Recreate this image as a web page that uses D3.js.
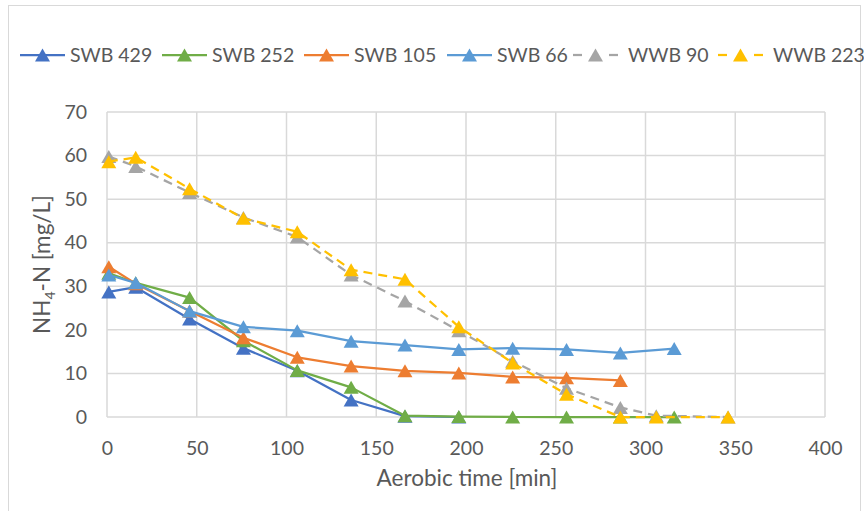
<!DOCTYPE html>
<html>
<head>
<meta charset="utf-8">
<script src="https://cdn.jsdelivr.net/npm/d3@7"></script>
<style>
  html, body { margin: 0; padding: 0; background: #fff; }
  svg { display: block; font-family: Lato, "Open Sans", sans-serif; }
</style>
</head>
<body>
<svg id="chart" width="864" height="511"></svg>
<script>
// Ammonium concentration during aerobic phase for six batches
const seriesNames = ["SWB 429", "SWB 252", "SWB 105", "SWB 66", "WWB 90", "WWB 223"];
const seriesColors = ["#4472C4", "#70AD47", "#ED7D31", "#5B9BD5", "#A5A5A5", "#FFC000"];
const seriesDashed = [false, false, false, false, true, true];

const timeSWB429 = [1, 16, 46, 76, 106, 136, 166, 196];
const valSWB429  = [28.7, 29.8, 22.5, 15.8, 10.6, 3.9, 0.2, 0];

const timeSWB252 = [1, 16, 46, 76, 106, 136, 166, 196, 226, 256, 286, 316];
const valSWB252  = [33.0, 30.8, 27.4, 17.5, 10.7, 6.8, 0.3, 0.1, 0, 0, 0, 0];

const timeSWB105 = [1, 16, 46, 76, 106, 136, 166, 196, 226, 256, 286];
const valSWB105  = [34.5, 30.6, 24.3, 18.2, 13.7, 11.7, 10.6, 10.1, 9.2, 9.0, 8.4];

const timeSWB66 = [1, 16, 46, 76, 106, 136, 166, 196, 226, 256, 286, 316];
const valSWB66  = [32.6, 30.8, 24.3, 20.7, 19.8, 17.4, 16.5, 15.5, 15.8, 15.5, 14.7, 15.7];

const timeWWB90 = [1, 16, 46, 76, 106, 136, 166, 196, 226, 256, 286, 306, 346];
const valWWB90  = [59.8, 57.5, 51.5, 45.8, 41.3, 32.6, 26.6, 19.8, 12.8, 6.6, 2.2, 0.3, 0];

const timeWWB223 = [1, 16, 46, 76, 106, 136, 166, 196, 226, 256, 286, 306, 346];
const valWWB223  = [58.6, 59.6, 52.4, 45.6, 42.5, 33.8, 31.6, 20.7, 12.4, 5.2, 0, 0, 0];

const xTicks = [0, 50, 100, 150, 200, 250, 300, 350, 400];
const yTicks = [0, 10, 20, 30, 40, 50, 60, 70];

const allTimes = [timeSWB429, timeSWB252, timeSWB105, timeSWB66, timeWWB90, timeWWB223];
const allVals  = [valSWB429, valSWB252, valSWB105, valSWB66, valWWB90, valWWB223];

const series = seriesNames.map((name, i) => ({
  name,
  color: seriesColors[i],
  dashed: seriesDashed[i],
  points: allTimes[i].map((t, j) => ({ t, v: allVals[i][j] }))
}));

const svg = d3.select("#chart");
const textColor = "#595959";
const gridColor = "#D9D9D9";

// outer chart frame
svg.append("rect")
  .attr("x", 8.5).attr("y", 5.5).attr("width", 852).attr("height", 520)
  .attr("fill", "none").attr("stroke", "#D9D9D9").attr("stroke-width", 1);

const plot = { left: 107, right: 825, top: 112, bottom: 417 };

const x = d3.scaleLinear().domain([0, 400]).range([plot.left, plot.right]);
const y = d3.scaleLinear().domain([0, 70]).range([plot.bottom, plot.top]);

// gridlines
const grid = svg.append("g");
grid.selectAll("line.h").data(yTicks).join("line")
  .attr("x1", plot.left).attr("x2", plot.right)
  .attr("y1", d => y(d)).attr("y2", d => y(d))
  .attr("stroke", gridColor).attr("stroke-width", 1.5);
grid.selectAll("line.v").data(xTicks).join("line")
  .attr("y1", plot.top).attr("y2", plot.bottom)
  .attr("x1", d => x(d)).attr("x2", d => x(d))
  .attr("stroke", gridColor).attr("stroke-width", 1.5);

// axes (labels only, lines come from the grid)
const xAxis = d3.axisBottom(x).tickValues(xTicks).tickSize(0).tickPadding(24);
const gx = svg.append("g").attr("transform", `translate(0,${plot.bottom})`).call(xAxis);
gx.select(".domain").remove();
gx.selectAll("text").attr("fill", textColor).attr("font-size", 19.5).attr("font-family", "Lato, sans-serif");

const yAxis = d3.axisLeft(y).tickValues(yTicks).tickSize(0).tickPadding(20);
const gy = svg.append("g").attr("transform", `translate(${plot.left},0)`).call(yAxis);
gy.select(".domain").remove();
gy.selectAll("text").attr("fill", textColor).attr("font-size", 19.5).attr("font-family", "Lato, sans-serif");

// axis titles
svg.append("text")
  .attr("x", 467).attr("y", 486)
  .attr("text-anchor", "middle").attr("fill", textColor).attr("font-size", 22.5)
  .text("Aerobic time [min]");

const yTitle = svg.append("text")
  .attr("transform", `translate(50,${(plot.top + plot.bottom) / 2}) rotate(-90)`)
  .attr("text-anchor", "middle").attr("fill", textColor).attr("font-size", 22.5);
yTitle.append("tspan").text("NH");
yTitle.append("tspan").attr("font-size", 14).attr("dy", 5).text("4");
yTitle.append("tspan").attr("dy", -5).text("-N [mg/L]");

// triangle marker, centred on its bounding box
const triW = 15, triH = 13;
const triPath = `M0,${-triH / 2}L${triW / 2},${triH / 2}L${-triW / 2},${triH / 2}Z`;

const line = d3.line().x(d => x(d.t)).y(d => y(d.v));

const marks = svg.append("g");
series.forEach(s => {
  const g = marks.append("g");
  g.append("path")
    .datum(s.points)
    .attr("d", line)
    .attr("fill", "none")
    .attr("stroke", s.color)
    .attr("stroke-width", 2.25)
    .attr("stroke-linejoin", "round")
    .attr("stroke-dasharray", s.dashed ? "9,6" : null);
  g.selectAll("path.m").data(s.points).join("path")
    .attr("class", "m")
    .attr("d", triPath)
    .attr("transform", d => `translate(${x(d.t)},${y(d.v)})`)
    .attr("fill", s.color);
});

// legend
const legendX = [20, 162, 304, 447, 573, 718];
const legend = svg.append("g").attr("transform", "translate(0,55)");
series.forEach((s, i) => {
  const g = legend.append("g").attr("transform", `translate(${legendX[i]},0)`);
  const segW = 45;
  if (s.dashed) {
    g.append("line").attr("x1", 0).attr("x2", 9).attr("y1", 0).attr("y2", 0)
      .attr("stroke", s.color).attr("stroke-width", 2.25);
    g.append("line").attr("x1", segW - 9).attr("x2", segW).attr("y1", 0).attr("y2", 0)
      .attr("stroke", s.color).attr("stroke-width", 2.25);
  } else {
    g.append("line").attr("x1", 0).attr("x2", segW).attr("y1", 0).attr("y2", 0)
      .attr("stroke", s.color).attr("stroke-width", 2.25);
  }
  g.append("path").attr("d", triPath).attr("transform", `translate(${segW / 2},0)`).attr("fill", s.color);
  g.append("text").attr("x", s.dashed ? segW + 10 : segW + 5).attr("y", 0).attr("dy", "0.35em")
    .attr("fill", textColor).attr("font-size", 19.5).text(s.name);
});
</script>
</body>
</html>
